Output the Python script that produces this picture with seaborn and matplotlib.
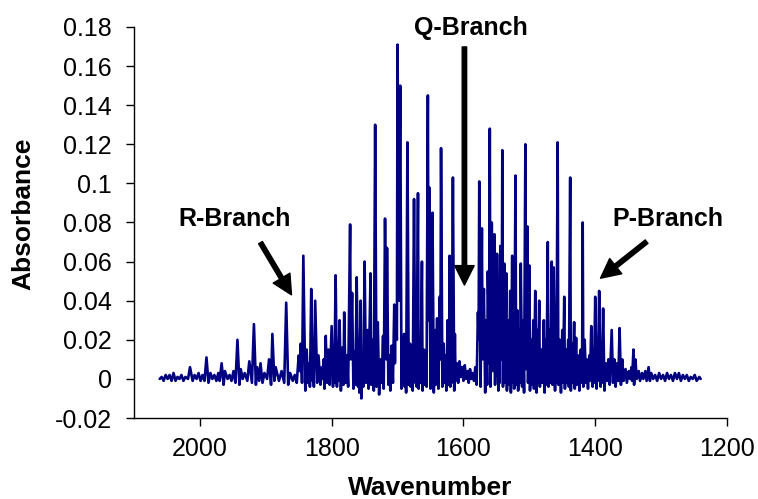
import numpy as np
import pandas as pd
import matplotlib
matplotlib.use('Agg')
from matplotlib import pyplot as plt
import seaborn as sns

# peak tops (wavenumber, absorbance)
peak_wn = [2058, 2052, 2046, 2040, 2034, 2028, 2022, 2015, 2008, 2002, 1996, 1990, 1984, 1978,
           1972, 1967, 1962, 1955, 1949, 1943, 1938, 1932, 1925, 1918, 1913, 1908, 1902, 1895,
           1890, 1885, 1876, 1869, 1863, 1856, 1850, 1847, 1843, 1838, 1834, 1831, 1828, 1825,
           1820, 1815, 1812, 1809, 1805, 1800, 1797, 1794, 1791, 1788, 1784, 1781, 1777, 1772,
           1769, 1766, 1762, 1759, 1756, 1753, 1750, 1746, 1741, 1738, 1734, 1730, 1726, 1722,
           1719, 1716, 1712, 1709, 1705, 1703, 1700, 1696, 1693, 1690, 1688, 1685, 1681, 1678,
           1675, 1672, 1669, 1666, 1663, 1660, 1657, 1654, 1652, 1649, 1647, 1643, 1640, 1636,
           1634, 1630, 1627, 1624, 1621, 1619, 1616, 1613, 1610, 1606, 1602, 1598, 1594, 1590,
           1586, 1582, 1578, 1576, 1572, 1569, 1566, 1563, 1560, 1557, 1553, 1551, 1549, 1546,
           1544, 1541, 1538, 1535, 1532, 1529, 1526, 1524, 1521, 1518, 1515, 1513, 1510, 1506,
           1503, 1500, 1497, 1494, 1491, 1488, 1485, 1482, 1478, 1475, 1472, 1469, 1466, 1463,
           1460, 1457, 1454, 1450, 1447, 1444, 1441, 1438, 1435, 1432, 1429, 1426, 1422, 1419,
           1416, 1413, 1409, 1406, 1403, 1400, 1397, 1394, 1391, 1388, 1384, 1380, 1375, 1371,
           1367, 1363, 1359, 1354, 1349, 1345, 1342, 1339, 1334, 1329, 1324, 1319, 1315, 1309,
           1303, 1297, 1291, 1285, 1279, 1273, 1267, 1261, 1255, 1249, 1242]
peak_abs = [0.001, 0.002, 0.002, 0.003, 0.001, 0.002, 0.001, 0.006, 0.002, 0.003, 0.002, 0.011, 0.003, 0.002,
            0.003, 0.008, 0.004, 0.002, 0.004, 0.020, 0.005, 0.003, 0.009, 0.028, 0.006, 0.008, 0.003, 0.010,
            0.023, 0.006, 0.004, 0.039, 0.003, 0.002, 0.012, 0.018, 0.063, 0.015, 0.008, 0.046, 0.010, 0.040,
            0.012, 0.006, 0.010, 0.022, 0.015, 0.027, 0.012, 0.053, 0.018, 0.030, 0.016, 0.034, 0.012, 0.079,
            0.044, 0.014, 0.052, 0.020, 0.040, 0.012, 0.060, 0.025, 0.054, 0.020, 0.130, 0.029, 0.010, 0.022,
            0.082, 0.067, 0.012, 0.017, 0.038, 0.030, 0.171, 0.150, 0.020, 0.023, 0.010, 0.121, 0.018, 0.015,
            0.092, 0.037, 0.095, 0.020, 0.060, 0.015, 0.010, 0.145, 0.098, 0.030, 0.085, 0.025, 0.031, 0.042,
            0.118, 0.018, 0.012, 0.030, 0.063, 0.020, 0.103, 0.023, 0.008, 0.009, 0.006, 0.007, 0.004, 0.005,
            0.003, 0.006, 0.034, 0.101, 0.077, 0.046, 0.030, 0.055, 0.128, 0.080, 0.074, 0.030, 0.064, 0.035,
            0.068, 0.117, 0.059, 0.054, 0.030, 0.045, 0.063, 0.040, 0.104, 0.035, 0.025, 0.059, 0.030, 0.120,
            0.078, 0.058, 0.020, 0.030, 0.045, 0.025, 0.040, 0.015, 0.030, 0.020, 0.070, 0.025, 0.060, 0.057,
            0.030, 0.121, 0.020, 0.025, 0.042, 0.015, 0.020, 0.103, 0.018, 0.029, 0.021, 0.012, 0.015, 0.080,
            0.020, 0.010, 0.012, 0.027, 0.012, 0.042, 0.015, 0.045, 0.012, 0.036, 0.008, 0.010, 0.025, 0.010,
            0.008, 0.026, 0.010, 0.005, 0.004, 0.006, 0.015, 0.010, 0.004, 0.003, 0.004, 0.006, 0.003, 0.002,
            0.003, 0.002, 0.003, 0.002, 0.003, 0.003, 0.002, 0.002, 0.001, 0.002, 0.001]

# troughs between the lines
dip_wn = [2061, 2055, 2049, 2043, 2037, 2031, 2025, 2018, 2011, 2005, 1999, 1993, 1987, 1981, 1975,
          1970, 1964, 1958, 1952, 1946, 1940, 1935, 1928, 1921, 1915, 1910, 1905, 1898, 1892, 1887,
          1880, 1872, 1866, 1859, 1853, 1848, 1845, 1840, 1836, 1833, 1829, 1827, 1822, 1817, 1813,
          1811, 1807, 1803, 1798, 1796, 1792, 1790, 1786, 1782, 1779, 1775, 1771, 1767, 1764, 1760,
          1758, 1755, 1752, 1748, 1744, 1740, 1736, 1732, 1728, 1724, 1721, 1717, 1714, 1711, 1707,
          1704, 1701, 1698, 1694, 1691, 1689, 1687, 1683, 1680, 1677, 1673, 1671, 1668, 1665, 1662,
          1659, 1656, 1653, 1650, 1648, 1645, 1642, 1638, 1635, 1632, 1629, 1626, 1622, 1620, 1618,
          1614, 1612, 1608, 1604, 1600, 1596, 1592, 1588, 1584, 1580, 1577, 1574, 1571, 1567, 1564,
          1561, 1559, 1555, 1552, 1550, 1547, 1545, 1542, 1540, 1537, 1534, 1531, 1528, 1525, 1523,
          1520, 1517, 1514, 1511, 1508, 1505, 1502, 1499, 1496, 1493, 1489, 1487, 1484, 1480, 1477,
          1474, 1471, 1468, 1465, 1461, 1459, 1456, 1452, 1449, 1446, 1443, 1440, 1437, 1434, 1431,
          1428, 1424, 1420, 1418, 1414, 1411, 1408, 1404, 1402, 1398, 1396, 1392, 1390, 1386, 1382,
          1378, 1373, 1369, 1365, 1361, 1357, 1352, 1347, 1344, 1341, 1337, 1332, 1327, 1322, 1317,
          1312, 1306, 1300, 1294, 1288, 1282, 1276, 1270, 1264, 1258, 1252, 1246, 1240]
dip_abs = [0.000, -0.001, 0.000, -0.001, -0.001, 0.000, -0.001, 0.000, -0.001, 0.000, -0.001, -0.001, -0.002, 0.000, -0.001,
           -0.001, -0.003, 0.000, -0.001, -0.002, -0.003, 0.000, -0.001, -0.002, -0.003, -0.001, -0.002, 0.000, -0.003, -0.001,
           -0.001, -0.002, -0.003, -0.001, -0.002, 0.004, -0.002, -0.006, -0.002, -0.004, -0.001, -0.004, -0.002, -0.003, 0.000,
           -0.005, -0.002, -0.003, -0.004, -0.002, -0.004, -0.001, -0.006, -0.003, -0.002, -0.004, 0.010, -0.005, -0.003, -0.004,
           -0.007, -0.010, -0.004, -0.002, -0.005, -0.003, -0.006, -0.004, -0.008, -0.002, -0.005, 0.010, -0.003, -0.006, -0.002,
           0.008, 0.020, 0.040, -0.005, -0.002, -0.004, -0.007, -0.003, -0.004, -0.006, -0.002, -0.004, -0.005, -0.002, -0.006,
           -0.003, -0.004, 0.030, -0.005, -0.002, -0.007, -0.003, -0.005, 0.010, -0.004, -0.002, -0.006, -0.003, -0.004, -0.002,
           -0.006, -0.001, -0.002, 0.001, -0.001, 0.000, -0.002, 0.000, -0.001, -0.003, 0.020, -0.004, 0.010, -0.007, -0.003,
           0.008, -0.004, 0.004, -0.003, 0.002, -0.006, -0.002, 0.010, -0.004, -0.002, -0.006, -0.003, -0.007, -0.002, -0.005,
           -0.003, -0.006, -0.002, -0.004, -0.007, 0.005, -0.002, -0.006, -0.003, -0.005, -0.007, -0.002, -0.004, -0.002, -0.007,
           -0.003, -0.004, -0.002, -0.003, -0.006, -0.002, -0.003, -0.007, -0.002, -0.005, -0.002, -0.004, -0.006, -0.002, -0.005,
           -0.003, -0.006, -0.002, -0.004, -0.002, -0.005, -0.001, -0.004, -0.002, -0.005, -0.001, -0.004, -0.002, -0.006, -0.001,
           -0.003, -0.002, -0.004, -0.001, -0.003, -0.001, -0.002, 0.000, -0.001, -0.003, 0.000, -0.001, 0.000, -0.001, -0.001,
           0.000, -0.001, 0.000, -0.001, 0.000, -0.001, 0.000, -0.001, 0.000, -0.001, 0.000, -0.001, 0.000]

y_ticks = [-0.02, 0, 0.02, 0.04, 0.06, 0.08, 0.1, 0.12, 0.14, 0.16, 0.18]
x_ticks = [2000, 1800, 1600, 1400, 1200]

df = pd.DataFrame({'Wavenumber': peak_wn + dip_wn, 'Absorbance': peak_abs + dip_abs})
df = df.sort_values('Wavenumber', ascending=False).reset_index(drop=True)

sns.set_style('white')
plt.rcParams['font.family'] = ['Liberation Sans', 'DejaVu Sans']
plt.rcParams['axes.unicode_minus'] = False
plt.rcParams['text.color'] = 'black'
plt.rcParams['axes.labelcolor'] = 'black'
plt.rcParams['xtick.color'] = 'black'
plt.rcParams['ytick.color'] = 'black'

fig = plt.figure(figsize=(7.58, 4.99), dpi=100)
ax = fig.add_axes([134/758, 81/499, 593/758, 391/499])

sns.lineplot(data=df, x='Wavenumber', y='Absorbance', sort=False, estimator=None,
             color='#000080', linewidth=1.9, ax=ax)

ax.set_xlim(2100, 1200)
ax.set_ylim(-0.02, 0.18)
ax.set_xticks(x_ticks)
ax.set_xticklabels([str(t) for t in x_ticks])
ax.set_yticks(y_ticks)
ax.set_yticklabels([f'{t:g}' for t in y_ticks])
ax.tick_params(axis='both', direction='out', length=6, width=1, color='black',
               labelcolor='black', labelsize=18, left=True, bottom=True)
ax.tick_params(axis='y', pad=10)
ax.tick_params(axis='x', pad=8)
sns.despine(ax=ax)
for s in ['left', 'bottom']:
    ax.spines[s].set_color('black')
    ax.spines[s].set_linewidth(1)

ax.set_xlabel('Wavenumber', fontsize=19, fontweight='bold', va='center')
ax.xaxis.set_label_coords(0.5, -0.178)
ax.set_ylabel('Absorbance', fontsize=19, fontweight='bold', va='center')
ax.yaxis.set_label_coords(-0.187, 0.522)

# branch labels and arrows
arrow = dict(arrowstyle='simple,head_length=1.4,head_width=1.4,tail_width=0.32',
             color='black', mutation_scale=10, shrinkA=0, shrinkB=0)
ax.annotate('', xy=(1861, 0.043), xytext=(1908, 0.0697), arrowprops=arrow)
ax.annotate('', xy=(1598.5, 0.048), xytext=(1598.5, 0.1698), arrowprops=arrow, annotation_clip=False)
ax.annotate('', xy=(1392, 0.0515), xytext=(1322, 0.0702), arrowprops=arrow)
ax.text(1947, 0.0817, 'R-Branch', fontsize=18, fontweight='bold', ha='center', va='center')
ax.text(1588, 0.1795, 'Q-Branch', fontsize=18, fontweight='bold', ha='center', va='center', clip_on=False)
ax.text(1289, 0.0818, 'P-Branch', fontsize=18, fontweight='bold', ha='center', va='center')

fig.savefig('out.png', dpi=100)
